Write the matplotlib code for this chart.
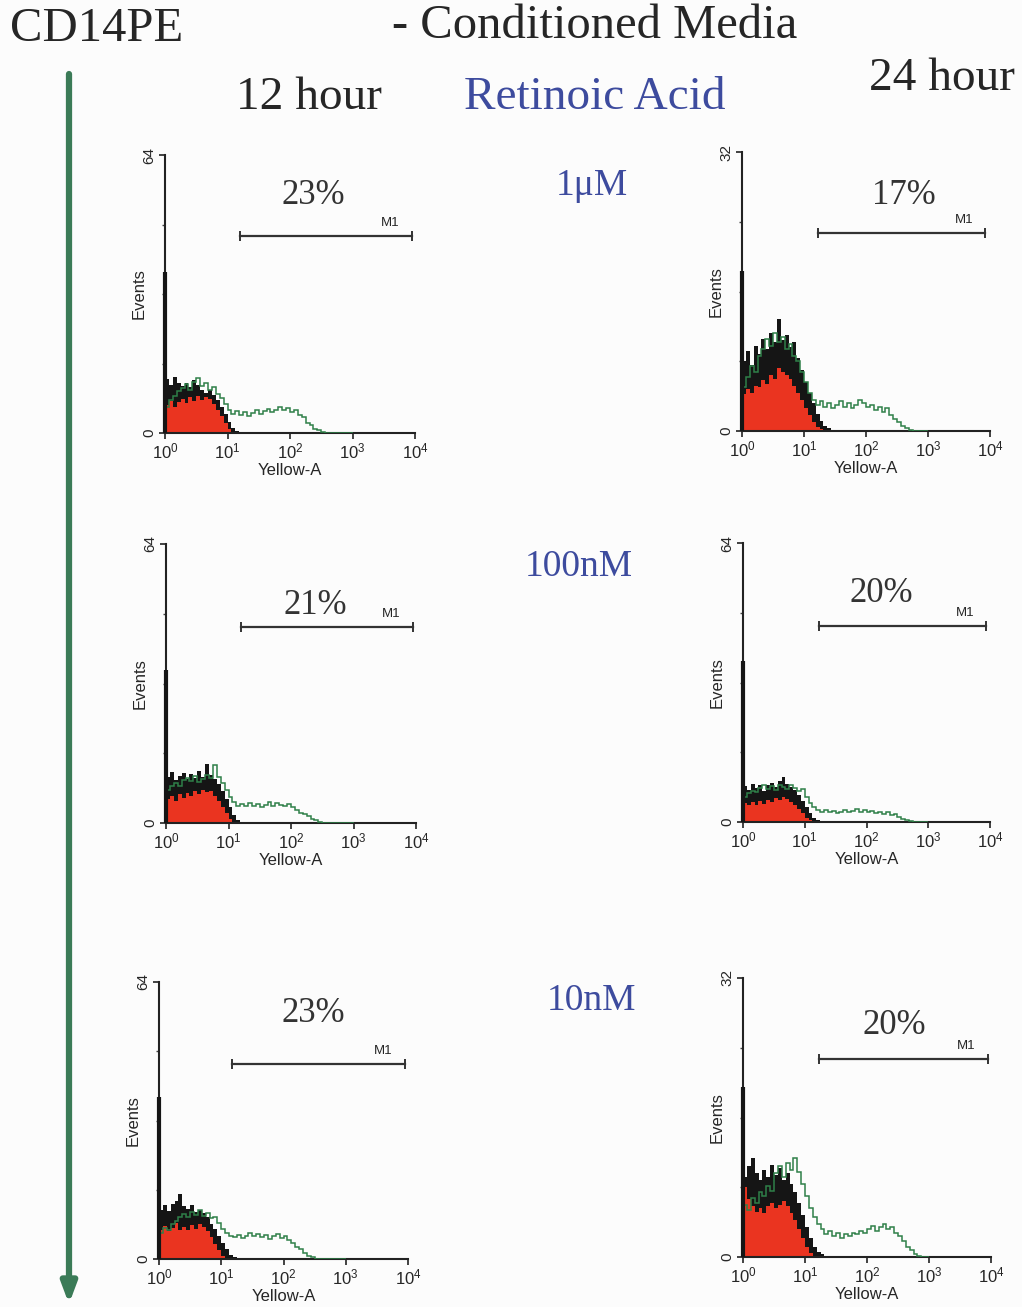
import numpy as np
import matplotlib
matplotlib.use("Agg")
import matplotlib.pyplot as plt

W, H = 1022, 1307

# histogram bins: 16 per decade, starting at 10^0
edges_short = 10 ** (np.arange(25) / 16)
edges_long = 10 ** (np.arange(49) / 16)

# ---- 12 hour, 1uM (y max 64)
black_tl = [12.5, 11.0, 12.8, 11.6, 10.8, 11.4, 10.6, 12.2, 11.0, 10.0, 9.2, 10.0,
            8.8, 7.6, 6.0, 4.4, 2.6, 1.2, 0.5, 0.3, 0.2, 0.2, 0.1, 0.1]
red_tl = [6.4, 7.4, 6.0, 7.2, 7.8, 6.8, 8.2, 7.4, 8.6, 7.6, 8.4, 7.8,
          6.6, 5.2, 3.8, 2.4, 1.0, 0.3, 0, 0, 0, 0, 0, 0]
green_tl = [6.0, 7.5, 8.5, 9.6, 10.4, 11.2, 10.0, 11.8, 12.6, 10.8,
            11.4, 9.8, 10.6, 9.0, 8.0, 6.6, 5.4, 4.4, 5.0, 4.2,
            4.8, 4.0, 4.6, 5.2, 4.4, 5.0, 5.6, 4.8, 5.4, 6.0,
            5.2, 5.8, 4.8, 5.4, 4.2, 3.6, 2.4, 1.8, 1.0, 0.6,
            0.3, 0.1, 0, 0, 0, 0, 0, 0]

# ---- 24 hour, 1uM (y max 32)
black_tr = [8.0, 9.2, 7.6, 9.8, 8.8, 10.6, 9.4, 11.2, 10.2, 12.9, 10.4, 11.0,
            9.6, 10.2, 8.4, 7.0, 5.6, 4.4, 3.2, 2.0, 1.2, 0.6, 0.3, 0.1]
red_tr = [4.2, 4.8, 4.4, 5.2, 5.0, 5.8, 5.4, 6.4, 6.0, 7.2, 6.8, 6.4,
          6.0, 5.2, 4.4, 3.6, 2.6, 1.8, 1.0, 0.5, 0.2, 0, 0, 0]
green_tr = [5.0, 6.2, 7.4, 6.8, 8.6, 9.4, 10.6, 9.8, 11.2, 10.2,
            10.8, 9.4, 10.0, 8.6, 8.0, 6.8, 5.6, 4.4, 3.6, 3.0,
            3.4, 2.8, 3.2, 2.6, 3.0, 3.4, 2.8, 3.2, 2.6, 3.0,
            3.6, 3.2, 2.8, 3.0, 2.4, 2.8, 2.2, 2.6, 1.8, 1.4,
            1.0, 0.6, 0.3, 0.1, 0, 0, 0, 0]

# ---- 12 hour, 100nM (y max 64)
black_ml = [10.6, 11.8, 9.8, 10.8, 11.4, 10.0, 11.2, 10.4, 12.0, 10.6, 13.6, 11.0,
            10.2, 9.0, 7.4, 5.6, 3.6, 1.8, 0.8, 0.3, 0.2, 0.1, 0.1, 0.0]
red_ml = [5.4, 6.2, 5.0, 6.6, 5.8, 6.8, 6.2, 7.4, 6.6, 7.6, 7.0, 7.4,
          6.2, 5.0, 3.6, 2.2, 1.0, 0.3, 0, 0, 0, 0, 0, 0]
green_ml = [7.6, 8.4, 9.2, 8.6, 9.8, 10.4, 9.6, 10.8, 9.4, 10.2,
            11.0, 10.4, 13.2, 10.6, 9.2, 7.6, 6.0, 4.8, 4.0, 4.4,
            3.8, 4.6, 4.0, 4.4, 3.6, 4.2, 4.8, 4.0, 4.6, 4.2,
            3.8, 4.4, 3.6, 3.0, 2.4, 2.0, 1.6, 1.0, 0.6, 0.3,
            0.1, 0, 0, 0, 0, 0, 0, 0]

# ---- 24 hour, 100nM (y max 64)
black_mr = [8.2, 7.4, 8.8, 7.8, 8.4, 7.2, 8.6, 9.0, 8.0, 9.4, 10.4, 8.8,
            8.0, 7.4, 6.2, 4.8, 3.4, 2.0, 1.0, 0.4, 0.2, 0.1, 0.1, 0]
red_mr = [4.4, 3.8, 4.6, 4.0, 4.8, 4.2, 5.0, 4.6, 5.4, 5.0, 5.8, 5.2,
          4.6, 3.8, 3.0, 2.0, 1.0, 0.4, 0, 0, 0, 0, 0, 0]
green_mr = [5.8, 6.6, 7.2, 6.8, 7.8, 8.4, 7.6, 8.2, 7.4, 8.6,
            8.0, 7.6, 8.4, 7.8, 7.2, 7.6, 5.8, 4.4, 3.4, 2.8,
            2.4, 2.8, 2.2, 2.6, 2.0, 2.4, 2.8, 2.2, 2.6, 3.0,
            2.4, 2.8, 2.2, 2.6, 2.0, 2.4, 1.8, 2.2, 1.6, 1.8,
            1.2, 0.8, 0.5, 0.2, 0.1, 0, 0, 0]

# ---- 12 hour, 10nM (y max 64)
black_bl = [11.4, 12.4, 11.0, 12.8, 13.4, 15.0, 12.2, 11.6, 12.4, 10.8, 11.4, 10.6,
            9.6, 8.2, 7.0, 5.4, 3.6, 2.2, 1.0, 0.4, 0.2, 0.1, 0.1, 0]
red_bl = [6.8, 7.6, 6.4, 7.2, 8.4, 6.6, 7.4, 6.8, 7.8, 7.0, 8.2, 7.4,
          6.4, 5.0, 3.4, 2.0, 0.8, 0.2, 0, 0, 0, 0, 0, 0]
green_bl = [6.0, 7.2, 6.6, 8.0, 8.8, 9.6, 10.4, 9.8, 10.8, 10.2,
            11.4, 10.0, 10.6, 9.4, 9.8, 8.4, 7.0, 6.0, 5.4, 5.0,
            5.6, 4.8, 5.4, 6.0, 5.2, 5.8, 5.0, 5.6, 4.6, 5.2,
            5.8, 4.8, 5.2, 4.4, 3.6, 2.8, 2.2, 1.4, 0.8, 0.4,
            0.1, 0, 0, 0, 0, 0, 0, 0]

# ---- 24 hour, 10nM (y max 32)
black_br = [9.2, 10.4, 11.4, 9.6, 8.8, 10.0, 9.2, 10.6, 9.4, 10.2, 8.8, 9.6,
            8.4, 7.4, 6.2, 4.8, 3.4, 2.2, 1.2, 0.6, 0.3, 0.1, 0.1, 0]
red_br = [8.0, 6.6, 5.8, 5.2, 5.6, 5.0, 5.8, 6.2, 5.6, 6.0, 6.4, 5.8,
          5.0, 4.2, 3.2, 2.2, 1.2, 0.5, 0.1, 0, 0, 0, 0, 0]
green_br = [6.0, 5.4, 6.8, 6.2, 7.4, 7.0, 8.2, 7.6, 9.6, 10.4,
            9.2, 10.8, 10.0, 11.4, 9.8, 8.4, 7.0, 5.6, 4.6, 3.8,
            3.2, 2.6, 3.0, 2.4, 2.8, 2.2, 2.6, 2.4, 2.8, 2.6,
            3.0, 2.8, 3.2, 3.6, 3.0, 3.4, 3.8, 3.2, 3.4, 2.8,
            2.4, 1.8, 1.2, 0.8, 0.4, 0.1, 0, 0]

# first-channel spikes, y-axis maxima, M1 gates, percentages
spikes = [37, 18.4, 35, 37, 37.5, 19.5]
y_max = [64, 32, 64, 64, 64, 32]
m1_lo = [16, 17, 16, 17, 15, 17]
m1_hi = [8800, 8400, 8800, 8700, 8800, 9000]
m1_level = [45.4, 22.7, 45.0, 45.0, 45.0, 22.7]
percents = ["23%", "17%", "21%", "20%", "23%", "20%"]
concentrations = ["1\u03bcM", "100nM", "10nM"]

# pixel boxes (x0, y0, x1, y1) of each histogram
boxes = [(165, 155, 415, 433), (742, 152, 990, 431),
         (166, 544, 416, 823), (743, 543, 990, 822),
         (159, 982, 408, 1259), (743, 978, 991, 1257)]
pct_pos = [(313, 196), (904, 196), (315, 606), (881, 593), (313, 1014), (894, 1026)]
conc_pos = [(592, 186), (579, 567), (591, 1001)]

blacks = [black_tl, black_tr, black_ml, black_mr, black_bl, black_br]
reds = [red_tl, red_tr, red_ml, red_mr, red_bl, red_br]
greens = [green_tl, green_tr, green_ml, green_mr, green_bl, green_br]

SERIF = "Liberation Serif"
SANS = "Liberation Sans"
BLUE = "#3d4b9e"
DARK = "#262626"
RED = "#ea3420"
GREEN = "#2f8048"

fig = plt.figure(figsize=(W / 100, H / 100), dpi=100, facecolor="#fcfcfc")

bg = fig.add_axes([0, 0, 1, 1])
bg.set_xlim(0, W)
bg.set_ylim(H, 0)
bg.axis("off")

bg.text(97, 29, "CD14PE", fontsize=35, family=SERIF, color=DARK, va="center", ha="center")
bg.text(595, 26, "- Conditioned Media", fontsize=35, family=SERIF, color=DARK, va="center", ha="center")
bg.text(309, 98, "12 hour", fontsize=34, family=SERIF, color=DARK, va="center", ha="center")
bg.text(595, 98, "Retinoic Acid", fontsize=34, family=SERIF, color=BLUE, va="center", ha="center")
bg.text(942, 79, "24 hour", fontsize=34, family=SERIF, color=DARK, va="center", ha="center")
for txt, (cx, cy) in zip(concentrations, conc_pos):
    bg.text(cx, cy, txt, fontsize=27, family=SERIF, color=BLUE, va="center", ha="center")
for txt, (cx, cy) in zip(percents, pct_pos):
    bg.text(cx, cy, txt, fontsize=25, family=SERIF, color="#333333", va="center", ha="center")

# green time arrow down the left side
bg.annotate("", xy=(69, 1304), xytext=(69, 74),
            arrowprops=dict(arrowstyle="-|>,head_length=1.2,head_width=0.45",
                            color="#3b7b57", lw=4.5, shrinkA=0, shrinkB=0))

for i in range(6):
    x0, y0, x1, y1 = boxes[i]
    ax = fig.add_axes([x0 / W, 1 - y1 / H, (x1 - x0) / W, (y1 - y0) / H])
    ax.patch.set_alpha(0)
    ax.set_xscale("log")
    ax.set_xlim(1, 1e4)
    ax.set_ylim(0, y_max[i])

    ax.stairs(blacks[i], edges_short, fill=True, color="#151515", zorder=1)
    ax.stairs(reds[i], edges_short, fill=True, color=RED, zorder=2)
    ax.stairs(greens[i], edges_long, fill=False, color=GREEN, lw=1.1, zorder=3)
    ax.vlines(1.0, 0, spikes[i], color="#151515", lw=3, zorder=4, clip_on=False)

    # M1 marker gate
    ax.plot([m1_lo[i], m1_hi[i]], [m1_level[i], m1_level[i]], color="#333333", lw=1.6)
    ax.plot([m1_lo[i], m1_hi[i]], [m1_level[i], m1_level[i]], ls="none", marker="|",
            ms=7, mew=1.4, color="#333333")
    ax.text(m1_hi[i] * 0.45, m1_level[i] + y_max[i] * 0.025, "M1", fontsize=9.5,
            family=SANS, color=DARK, ha="center", va="bottom")

    for side in ("top", "right"):
        ax.spines[side].set_visible(False)
    for side in ("left", "bottom"):
        ax.spines[side].set_linewidth(1.5)
        ax.spines[side].set_color("#222222")

    ax.set_xticks([1, 10, 100, 1000, 10000])
    ax.set_xticklabels([r"$\mathregular{10^{%d}}$" % k for k in range(5)],
                       fontsize=12, family=SANS, color=DARK)
    ax.xaxis.set_minor_locator(matplotlib.ticker.NullLocator())
    ax.set_yticks([0, y_max[i]])
    ax.set_yticklabels(["0", str(y_max[i])], rotation=90, va="center",
                       fontsize=11, family=SANS, color=DARK)
    ax.set_yticks([y_max[i] * q / 4 for q in (1, 2, 3)], minor=True)
    ax.tick_params(axis="both", which="major", length=4, width=1.2, pad=2, color="#222222")
    ax.tick_params(axis="y", which="minor", length=2, width=1, color="#444444")
    ax.set_ylabel("Events", fontsize=12, family=SANS, color=DARK, labelpad=-3)
    ax.set_xlabel("Yellow-A", fontsize=12, family=SANS, color=DARK, labelpad=1)

fig.savefig("out.png", dpi=100, facecolor=fig.get_facecolor())
